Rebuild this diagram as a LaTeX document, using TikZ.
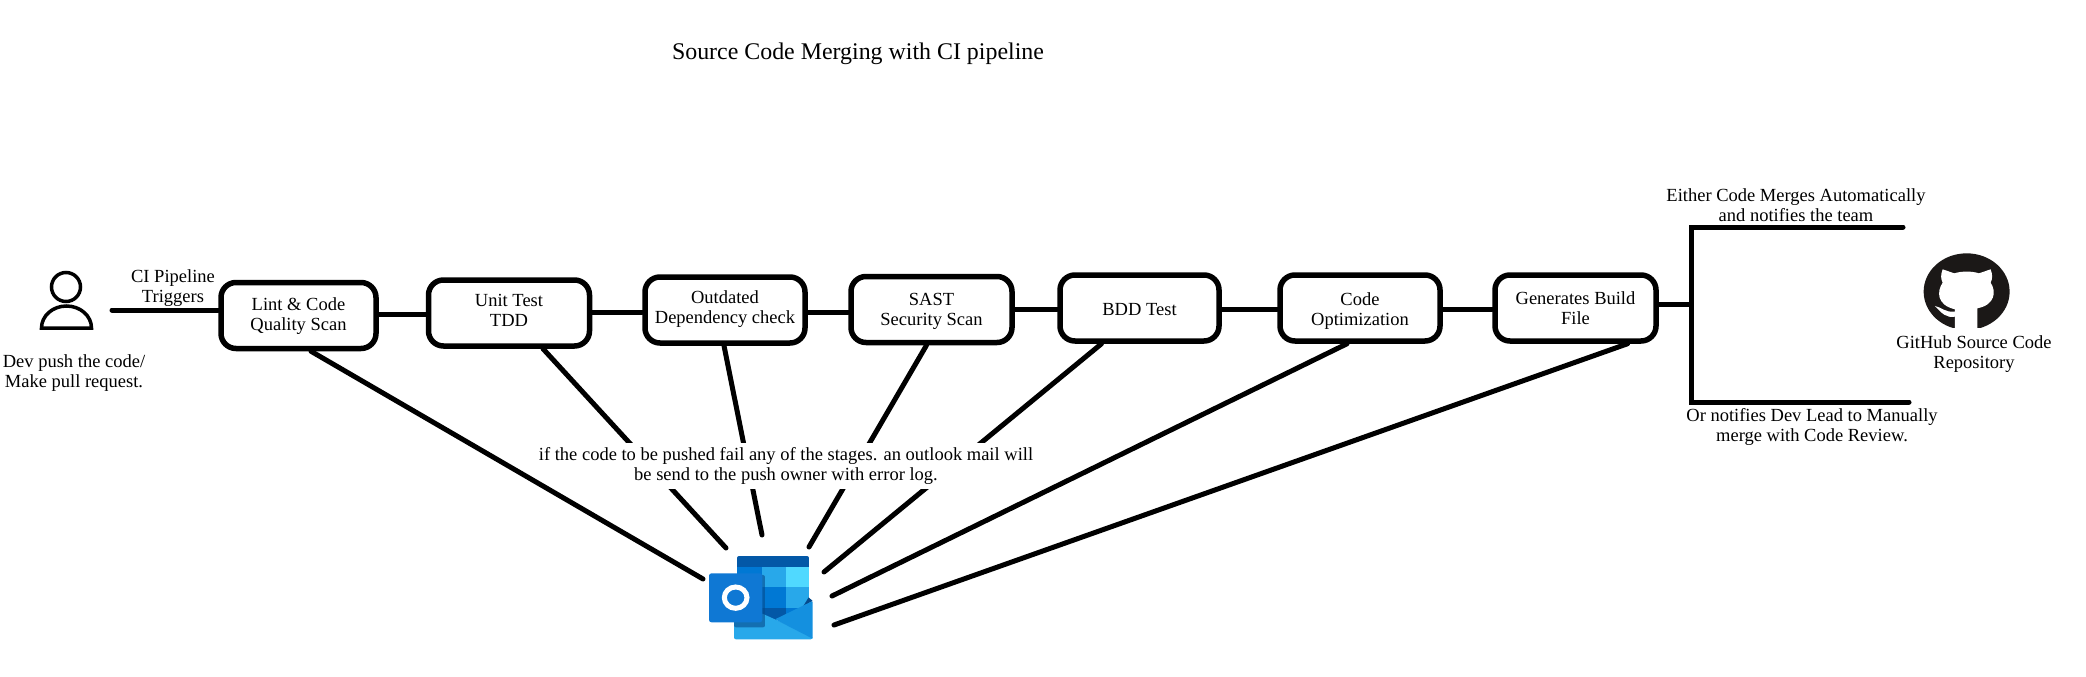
\documentclass[tikz,border=0pt]{standalone}
\usepackage{fontspec}
\setmainfont{Liberation Serif}
\usetikzlibrary{calc}
\definecolor{ol1}{HTML}{0358A7}
\definecolor{ol2}{HTML}{0078D4}
\definecolor{ol3}{HTML}{28A8EA}
\definecolor{ol4}{HTML}{50D9FF}
\definecolor{ol5}{HTML}{064A8C}
\definecolor{ol6}{HTML}{1490DF}
\definecolor{ol7}{HTML}{0F78D4}
\definecolor{ghk}{HTML}{1B1817}
\tikzset{
  txt/.style={font=\fontsize{18.5}{20}\selectfont,align=center,inner sep=0pt},
  stage/.style={draw=black,line width=5.5pt,rounded corners=15pt,fill=white,minimum width=#1,minimum height=66pt},
  stage/.default=156pt,
  wire/.style={draw=black,line width=5pt,line cap=round}
}
\begin{document}
\begin{tikzpicture}[x=1pt,y=-1pt]
\useasboundingbox (0,0) rectangle (2086,677);
% stages
\node[stage=155pt,label={[txt,yshift=-1pt]center:Lint \& Code\\Quality Scan}] (b1) at (298.5,315.5) {};
\node[stage=161pt,label={[txt,yshift=3pt]center:Unit Test\\TDD}] (b2) at (509,313) {};
\node[stage=160pt,label={[txt,yshift=1pt]center:Outdated\\Dependency check}] (b3) at (725,310) {};
\node[stage=161pt,label={[txt,yshift=-2pt]center:SAST\\Security Scan}] (b4) at (931.5,309.5) {};
\node[stage=159pt,label={[txt,yshift=-2pt]center:BDD Test}] (b5) at (1139.5,308) {};
\node[stage=160pt,label={[txt,yshift=-3pt]center:Code\\Optimization}] (b6) at (1360,308) {};
\node[stage=161pt,label={[txt]center:Generates Build\\File}] (b7) at (1575.5,308) {};
% free ends
\coordinate (dev) at (112,310);
\coordinate (c12) at (400,314);
\coordinate (c23) at (600,312);
\coordinate (c34) at (820,312);
\coordinate (c45) at (1030,309);
\coordinate (c56) at (1250,309);
\coordinate (c67) at (1470,309);
\coordinate (j) at (1691,304);
\coordinate (jt) at (1691,227);
\coordinate (jb) at (1691,402);
\coordinate (et) at (1903,227);
\coordinate (eb) at (1909,402);
\coordinate (m1) at (703,579);
\coordinate (m2) at (726,548);
\coordinate (m3) at (762,535);
\coordinate (m4) at (809,547);
\coordinate (m5) at (824,572);
\coordinate (m6) at (832,596);
\coordinate (m7) at (834,625);
% stage connectors
\draw[wire] (dev) -- (b1.west |- dev);
\draw[wire] (b1.east |- c12) -- (b2.west |- c12);
\draw[wire] (b2.east |- c23) -- (b3.west |- c23);
\draw[wire] (b3.east |- c34) -- (b4.west |- c34);
\draw[wire] (b4.east |- c45) -- (b5.west |- c45);
\draw[wire] (b5.east |- c56) -- (b6.west |- c56);
\draw[wire] (b6.east |- c67) -- (b7.west |- c67);
\draw[wire] (b7.east |- j) -- (j);
\draw[wire] (et) -- (jt) -- (jb) -- (eb);
% mail lines that pass behind the text
\draw[wire] ([xshift=34pt]b2.south) -- (m2);
\draw[wire] ([xshift=-1pt]b3.south) -- (m3);
\draw[wire] ([xshift=-5pt]b4.south) -- (m4);
\draw[wire] ([xshift=-38pt]b5.south) -- (m5);
\draw[wire] ([xshift=-13pt]b6.south) -- (m6);
\draw[wire] ([xshift=52pt]b7.south) -- (m7);
% labels
\node[font=\fontsize{23.9}{26}\selectfont,inner sep=0pt] (title) at (858,54) {Source Code Merging with CI pipeline};
\node[txt] (ci) at (173,288) {CI Pipeline\\Triggers};
\node[txt] (devl) at (74,373) {Dev push the code/\\Make pull request.};
\node[txt] (auto) at (1796,205) {Either Code Merges Automatically\\and notifies the team};
\node[txt] (man) at (1812,427) {Or notifies Dev Lead to Manually\\merge with Code Review.};
\node[txt] (ghl) at (1974,354) {GitHub Source Code\\Repository};
\node[txt,fill=white,inner xsep=4pt,inner ysep=4pt] (fail) at (786,466) {if the code to be pushed fail any of the stages. an outlook mail will\\be send to the push owner with error log.};
\draw[wire] ([xshift=12.5pt]b1.south) -- (m1);
% person
\draw[line width=3.5pt] (66,287) circle (14.5);
\draw[line width=3.5pt] (41.5,328) arc[start angle=180,end angle=0,x radius=25,y radius=-22] -- cycle;
% outlook icon (pixels of a 3x crop at 680,520)
\begin{scope}[shift={(680,520)},x=0.3333pt,y=-0.3333pt]
\fill[ol1,rounded corners=2pt] (171,300) -- (171,108) -- (387,108) -- (387,300) -- cycle;
\fill[ol2] (171,140) rectangle (245,200);
\fill[ol3] (245,140) rectangle (318,200);
\fill[ol4] (318,140) rectangle (387,200);
\fill[ol2] (171,200) rectangle (245,263);
\fill[ol2] (245,200) rectangle (318,263);
\fill[ol3] (318,200) rectangle (387,263);
\fill[ol1] (171,263) rectangle (318,300);
\fill[ol2] (318,263) rectangle (387,300);
\fill[ol3,rounded corners=2pt] (162,270) -- (162,358) -- (398,358) -- (398,350) -- (285,298) -- (245,280) -- cycle;
\fill[ol5] (386,232) -- (398,243) -- (370,258) -- cycle;
\fill[ol6,rounded corners=1pt] (285,298) -- (398,243) -- (398,356) -- cycle;
\fill[ol5,opacity=.6,rounded corners=2pt] (162,165) rectangle (255,322);
\fill[ol7,rounded corners=2.5pt] (87,160) rectangle (247,307);
\draw[white,line width=5pt] (167,233) ellipse[x radius=34,y radius=32];
\end{scope}
% github mark
\begin{scope}[shift={(1620,170)},x=0.3333pt,y=-0.3333pt]
\begin{scope}
\clip (880,230) rectangle (1200,472);
\fill[ghk] (1040,365) ellipse[x radius=129,y radius=115];
\end{scope}
\fill[white] (968,298) -- (1003,310) .. controls (1025,303) and (1055,303) .. (1077,310)
 -- (1112,298) .. controls (1118,315) and (1118,325) .. (1112,338)
 .. controls (1130,365) and (1125,405) .. (1072,415) -- (1072,480) -- (1005,480) -- (1005,440)
 .. controls (980,445) and (965,430) .. (945,408) .. controls (965,412) and (975,428) .. (1005,425)
 -- (1005,418) .. controls (950,405) and (950,365) .. (968,338) .. controls (962,325) and (962,315) .. (968,298) -- cycle;
\end{scope}
\end{tikzpicture}
\end{document}
